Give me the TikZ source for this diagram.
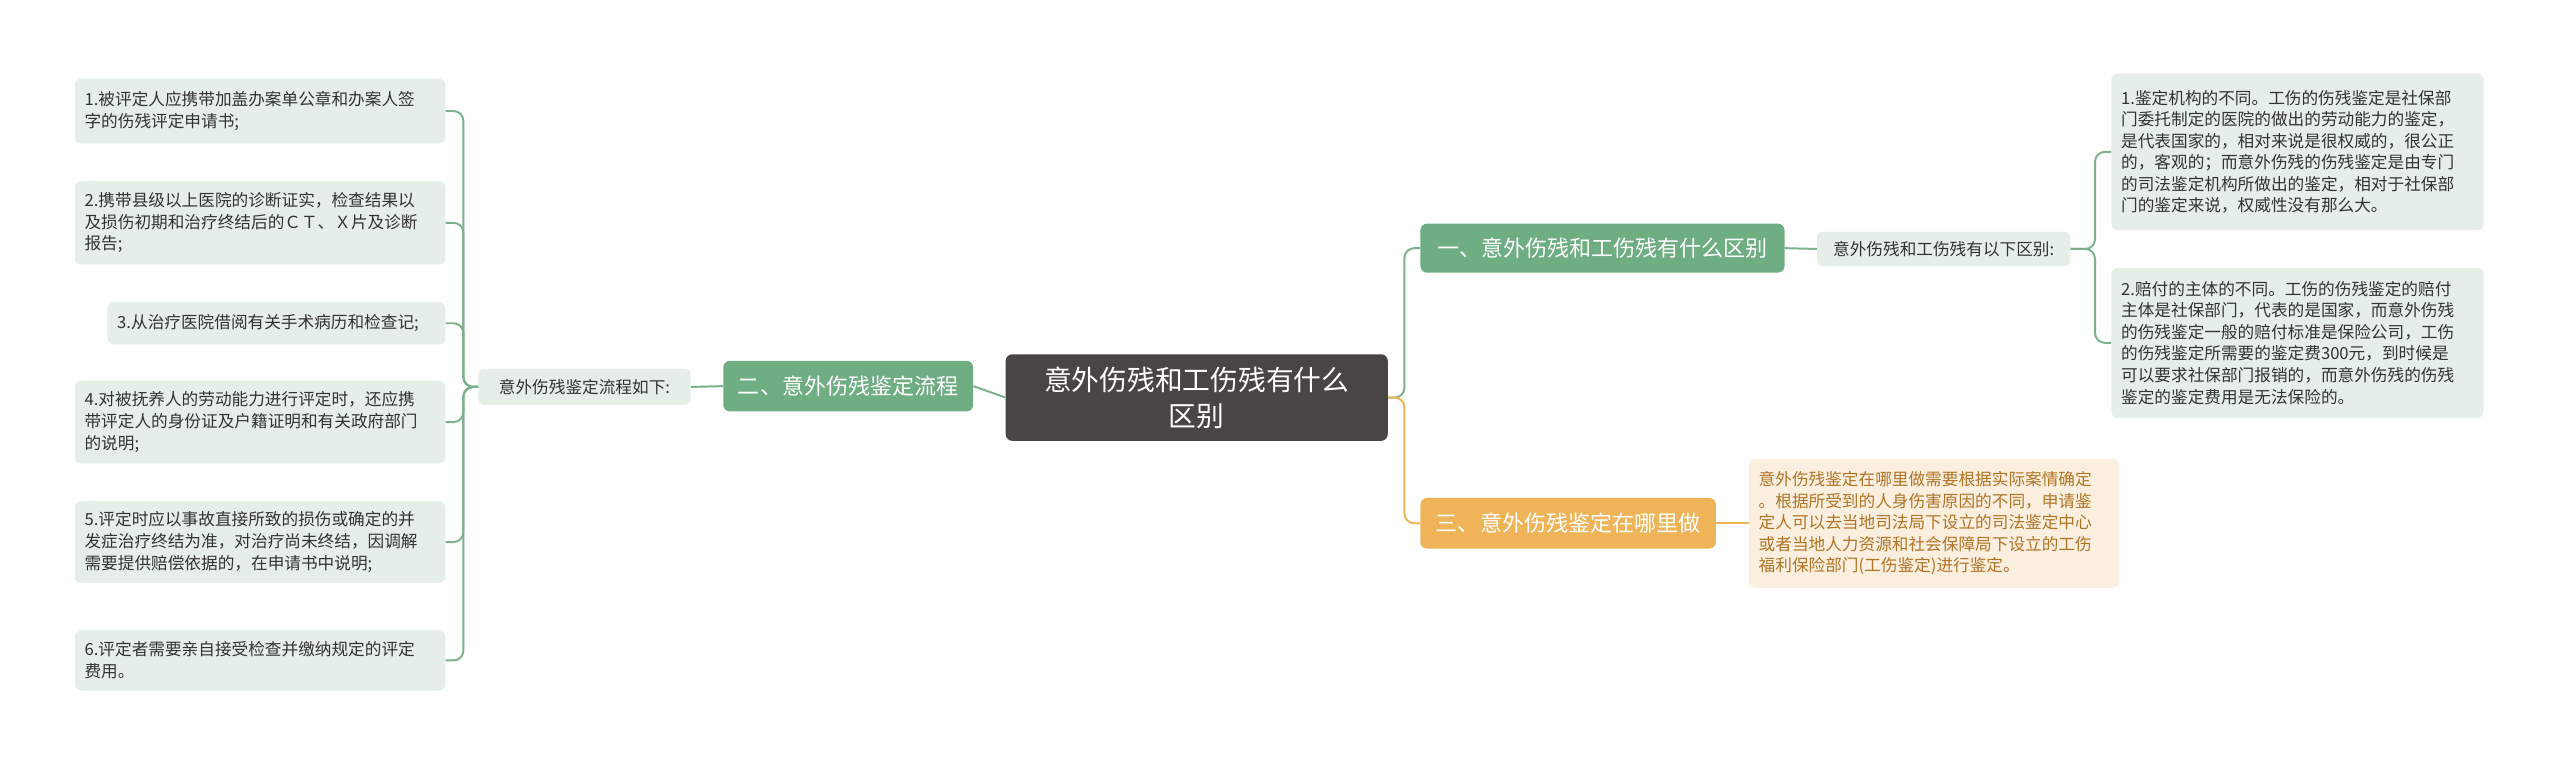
\documentclass[tikz,border=0pt]{standalone}
\usepackage{fontspec}
\setmainfont{Noto Sans CJK SC}
\begin{document}
\begin{tikzpicture}[x=1pt,y=-1pt,
  leaf/.style={fill=leafg,rounded corners=4,text=txt,align=left,inner sep=6,font=\fontsize{10.2}{13.2}\selectfont},
  lbl/.style={fill=leafg,rounded corners=3,text=txt,inner sep=5,font=\fontsize{10.2}{12}\selectfont},
  br/.style={fill=brg,rounded corners=4,text=white,inner sep=6,font=\fontsize{13.5}{16}\selectfont},
  con/.style={draw=lineg,line width=1.2pt,rounded corners=6},
  ocon/.style={draw=orl,line width=1.2pt,rounded corners=6}]
\definecolor{leafg}{HTML}{E5EFE7}
\definecolor{brg}{HTML}{6FAD83}
\definecolor{lineg}{HTML}{7DB18D}
\definecolor{txt}{HTML}{333333}
\definecolor{ctr}{HTML}{4A4545}
\definecolor{orl}{HTML}{F0B458}
\definecolor{orf}{HTML}{FDEFDF}
\definecolor{ort}{HTML}{B07426}
\useasboundingbox (0,0) rectangle (1568,470);
\fill[white] (0,0) rectangle (1568,470);
\node[fill=ctr,rounded corners=4,text=white,align=center,minimum width=234,minimum height=53,font=\fontsize{17}{22}\selectfont] (c) at (733,243.5) {意外伤残和工伤残有什么\\区别};
\node[br,minimum width=153,minimum height=31] (b2) at (519.5,236.5) {二、意外伤残鉴定流程};
\node[lbl,minimum width=130,minimum height=22] (l2) at (358,237) {意外伤残鉴定流程如下:};
\node[leaf,anchor=east,text width=215,minimum height=40] (a1) at (273,68) {1.被评定人应携带加盖办案单公章和办案人签\\字的伤残评定申请书;};
\node[leaf,anchor=east,text width=215,minimum height=51] (a2) at (273,136.5) {2.携带县级以上医院的诊断证实，检查结果以\\及损伤初期和治疗终结后的ＣＴ、Ｘ片及诊断\\报告;};
\node[leaf,anchor=east,text width=195,minimum height=26] (a3) at (273,198) {3.从治疗医院借阅有关手术病历和检查记;};
\node[leaf,anchor=east,text width=215,minimum height=51] (a4) at (273,258.5) {4.对被抚养人的劳动能力进行评定时，还应携\\带评定人的身份证及户籍证明和有关政府部门\\的说明;};
\node[leaf,anchor=east,text width=215,minimum height=50] (a5) at (273,332) {5.评定时应以事故直接所致的损伤或确定的并\\发症治疗终结为准，对治疗尚未终结，因调解\\需要提供赔偿依据的，在申请书中说明;};
\node[leaf,anchor=east,text width=215,minimum height=37] (a6) at (273,404.5) {6.评定者需要亲自接受检查并缴纳规定的评定\\费用。};
\node[br,minimum width=223,minimum height=30] (b1) at (981.5,152) {一、意外伤残和工伤残有什么区别};
\node[lbl,minimum width=155,minimum height=21] (l1) at (1190.5,152.5) {意外伤残和工伤残有以下区别:};
\node[leaf,anchor=west,text width=216,minimum height=96] (r1) at (1293,93) {1.鉴定机构的不同。工伤的伤残鉴定是社保部\\门委托制定的医院的做出的劳动能力的鉴定，\\是代表国家的，相对来说是很权威的，很公正\\的，客观的；而意外伤残的伤残鉴定是由专门\\的司法鉴定机构所做出的鉴定，相对于社保部\\门的鉴定来说，权威性没有那么大。};
\node[leaf,anchor=west,text width=216,minimum height=92] (r2) at (1293,210) {2.赔付的主体的不同。工伤的伤残鉴定的赔付\\主体是社保部门，代表的是国家，而意外伤残\\的伤残鉴定一般的赔付标准是保险公司，工伤\\的伤残鉴定所需要的鉴定费300元，到时候是\\可以要求社保部门报销的，而意外伤残的伤残\\鉴定的鉴定费用是无法保险的。};
\node[br,fill=orl,minimum width=181,minimum height=31] (b3) at (960.5,320.5) {三、意外伤残鉴定在哪里做};
\node[leaf,fill=orf,text=ort,anchor=west,text width=215,minimum height=79] (o1) at (1071,320.5) {意外伤残鉴定在哪里做需要根据实际案情确定\\。根据所受到的人身伤害原因的不同，申请鉴\\定人可以去当地司法局下设立的司法鉴定中心\\或者当地人力资源和社会保障局下设立的工伤\\福利保险部门(工伤鉴定)进行鉴定。};
\draw[con] (c.west) -- (b2.east);
\draw[con] (b2.west) -- (l2.east);
\foreach \n in {a1,a2,a3,a4,a5,a6} \draw[con] (l2.west) -- ++(-9,0) |- (\n.east);
\draw[con] (c.east) -- ++(10,0) |- (b1.west);
\draw[ocon] (c.east) -- ++(10,0) |- (b3.west);
\draw[con] (b1.east) -- (l1.west);
\foreach \n in {r1,r2} \draw[con] (l1.east) -- ++(15,0) |- (\n.west);
\draw[ocon] (b3.east) -- (o1.west);
\end{tikzpicture}
\end{document}
